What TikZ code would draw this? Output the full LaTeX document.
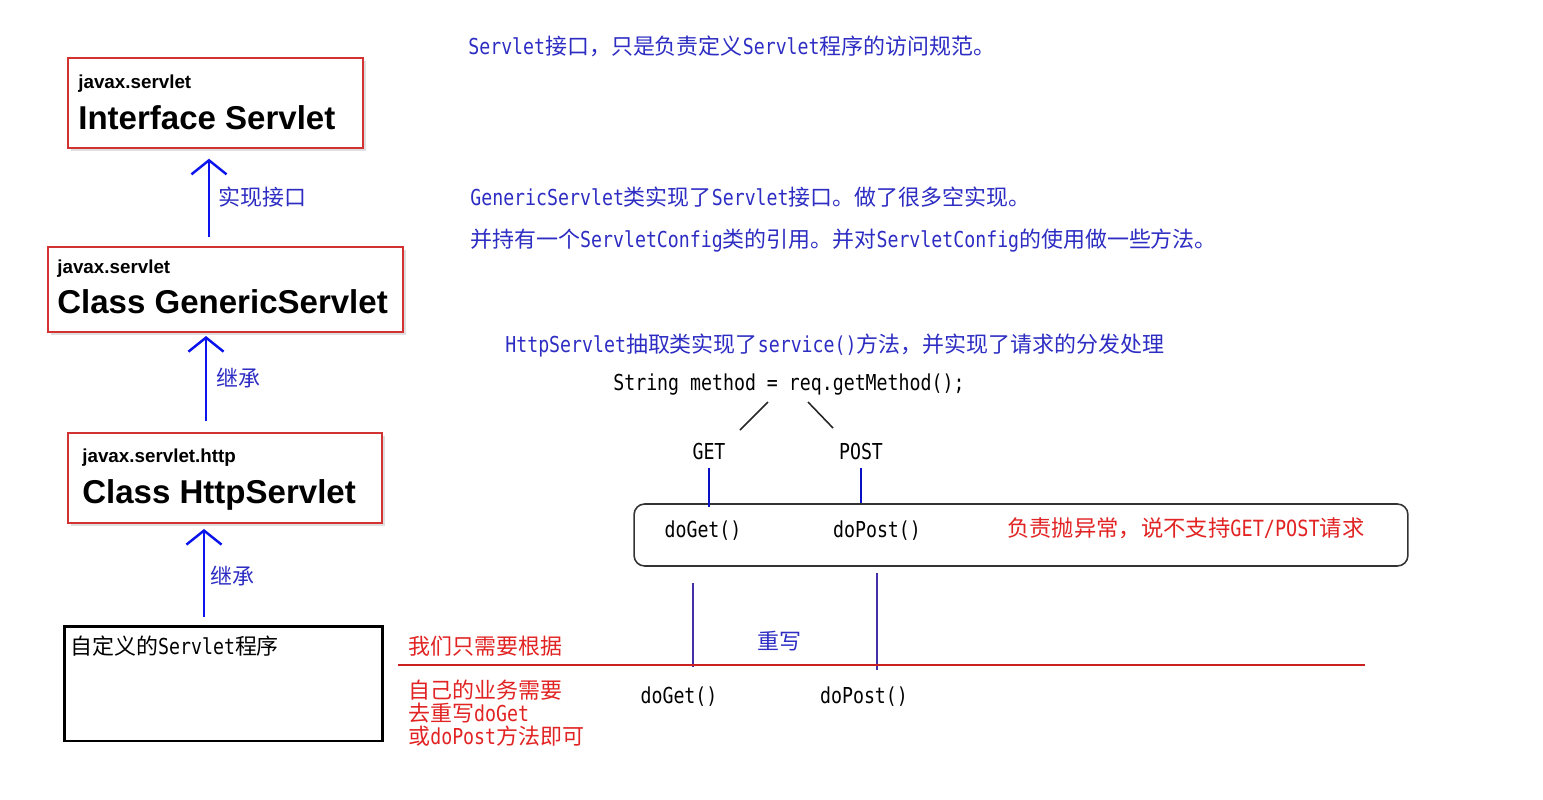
\documentclass[tikz,border=0pt]{standalone}
\usepackage{fontspec}
\setmainfont{Liberation Sans}
\newfontfamily\cjk{Noto Sans CJK SC}
\newfontfamily\code[FakeStretch=0.83]{DejaVu Sans Mono}
\newcommand{\m}[1]{{\code #1}}
\usetikzlibrary{arrows.meta, shadows}

\definecolor{noteblue}{RGB}{45,45,195}
\definecolor{arrowblue}{RGB}{10,20,235}
\definecolor{boxred}{RGB}{210,50,50}
\definecolor{notered}{RGB}{225,35,35}
\definecolor{overline}{RGB}{70,45,170}

\tikzset{
  classbox/.style={draw=boxred, line width=1.2pt, fill=white,
    drop shadow={opacity=0.25, shadow xshift=1.5pt, shadow yshift=-1.5pt}},
  pkgname/.style={anchor=base west, inner sep=0, font=\bfseries\fontsize{10.7}{12}\selectfont},
  classname/.style={anchor=base west, inner sep=0, font=\bfseries\fontsize{18.8}{22}\selectfont},
  upar/.style={draw=arrowblue, line width=1.7pt,
    -{Straight Barb[length=8pt, width=20pt, line width=1.4pt]}},
  note/.style={anchor=west, inner sep=0, text=noteblue, font=\cjk\fontsize{12.5}{15}\selectfont},
  rednote/.style={anchor=west, inner sep=0, text=notered, font=\cjk\fontsize{12.5}{13.3}\selectfont},
  codetext/.style={inner sep=0, font=\code\fontsize{12.5}{15}\selectfont},
  branch/.style={draw=black!85, line width=0.9pt},
  tick/.style={draw=arrowblue!85!black, line width=1.4pt},
  over/.style={draw=overline, line width=0.9pt}
}

\begin{document}
\begin{tikzpicture}[x=0.02cm, y=-0.02cm]
\useasboundingbox (0,0) rectangle (1543,799);

% class hierarchy on the left
\node[classbox, minimum width=5.9cm, minimum height=1.8cm] (b1) at (215.5,103) {};
\node[pkgname] (p1) at (78,88) {javax.servlet};
\node[classname] (c1) at (78,129) {Interface Servlet};

\node[classbox, minimum width=7.1cm, minimum height=1.7cm] (b2) at (225.5,289.5) {};
\node[pkgname] (p2) at (57,273) {javax.servlet};
\node[classname] (c2) at (57,313) {Class GenericServlet};

\node[classbox, minimum width=6.28cm, minimum height=1.8cm] (b3) at (225,478) {};
\node[pkgname] (p3) at (82,462) {javax.servlet.http};
\node[classname] (c3) at (82,503) {Class HttpServlet};

\node[draw, line width=1.7pt, minimum width=6.38cm, minimum height=2.3cm] (b4) at (223.5,683.5) {};
\node[note, text=black] (own) at (70,646) {自定义的\m{Servlet}程序};

\coordinate (k1) at (209,0);
\coordinate (k2) at (206,0);
\coordinate (k3) at (204,0);
\draw[upar, shorten <=5pt, shorten >=5.5pt] (b2.north -| k1) -- (b1.south -| k1);
\draw[upar, shorten <=6pt, shorten >=1.7pt] (b3.north -| k2) -- (b2.south -| k2);
\draw[upar, shorten <=4.5pt, shorten >=2.8pt] (b4.north -| k3) -- (b3.south -| k3);
\node[note] (l1) at (218,197) {实现接口};
\node[note] (l2) at (216,378) {继承};
\node[note] (l3) at (210,576) {继承};

% notes on the right
\node[note] (n1) at (468,46) {\m{Servlet}接口，只是负责定义\m{Servlet}程序的访问规范。};
\node[note] (n2) at (470,197) {\m{GenericServlet}类实现了\m{Servlet}接口。做了很多空实现。};
\node[note] (n3) at (470,241) {并持有一个\m{ServletConfig}类的引用。并对\m{ServletConfig}的使用做一些方法。};
\node[note] (n4) at (505,345) {\m{HttpServlet}抽取类实现了\m{service()}方法，并实现了请求的分发处理};

% dispatch
\node[codetext, anchor=west] (meth) at (613,385) {String method = req.getMethod();};
\node[codetext] (get) at (709,451) {GET};
\node[codetext] (post) at (861,451) {POST};
\coordinate (g1) at (768,402);
\coordinate (g2) at (740,430);
\coordinate (q1) at (808,402);
\coordinate (q2) at (833,428);
\draw[branch] (g1) -- (g2);
\draw[branch] (q1) -- (q2);

\node[draw=black!80, line width=0.9pt, rounded corners=6pt,
  minimum width=15.48cm, minimum height=1.24cm] (frame) at (1021,535) {};
\node[codetext] (doget) at (703,531) {doGet()};
\node[codetext] (dopost) at (877,531) {doPost()};
\node[rednote, font=\cjk\fontsize{12.7}{15}\selectfont] (err) at (1007,528) {负责抛异常，说不支持\m{GET/POST}请求};
\draw[tick, shorten <=5pt] (get.south) -- ([yshift=-2pt]frame.north -| get.south);
\draw[tick, shorten <=5pt] (post.south) -- (frame.north -| post.south);

% override part
\coordinate (o1) at (693,583);
\coordinate (o2) at (693,667);
\coordinate (o3) at (877,573);
\coordinate (o4) at (877,670);
\draw[over] (o1) -- (o2);
\draw[over] (o3) -- (o4);
\node[note, anchor=center] (ovr) at (779,641) {重写};
\coordinate (r1) at (398,665);
\coordinate (r2) at (1365,665);
\draw[notered!90!black, line width=0.7pt] (r1) -- (r2);
\node[rednote] (t1) at (408,646) {我们只需要根据};
\node[rednote, align=left] (t2) at (408,713) {自己的业务需要\\去重写\m{doGet}\\或\m{doPost}方法即可};
\node[codetext] (doget2) at (679,697) {doGet()};
\node[codetext] (dopost2) at (864,697) {doPost()};
\end{tikzpicture}
\end{document}
